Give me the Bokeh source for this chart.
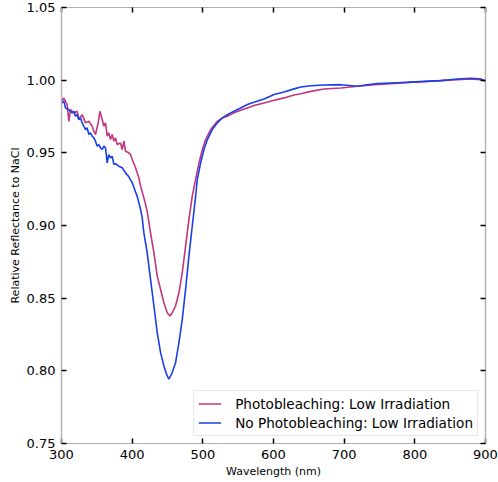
from bokeh.plotting import figure
from bokeh.models import (Range1d, LinearAxis, FixedTicker, NumeralTickFormatter, Legend,
                          LegendItem, CustomLabelingPolicy)
from bokeh.embed import file_html
from bokeh.resources import INLINE

# Photobleaching: Low Irradiation (magenta)
wl_pb = [300.0, 303.3, 308.0, 310.4, 312.7, 317.5, 322.2, 324.5, 329.3, 334.0, 338.7, 343.4,
         345.8, 348.1, 351.9, 354.3, 357.6, 359.9, 362.3, 364.7, 367.0, 369.4, 371.7, 374.1,
         376.5, 378.8, 383.5, 385.9, 388.3, 390.6, 395.3, 397.7, 400.1, 404.8, 407.2, 409.5,
         411.9, 416.6, 421.3, 426.0, 430.8, 435.5, 440.2, 444.9, 449.6, 453.4, 456.7, 461.4,
         466.2, 470.9, 475.6, 480.3, 485.0, 489.8, 494.6, 499.3, 504.0, 511.1, 520.5, 527.6,
         534.7, 544.1, 553.6, 563.0, 572.4, 586.6, 600.8, 614.9, 629.1, 638.6, 652.7, 671.6,
         695.2, 718.8, 742.4, 766.0, 789.6, 813.2, 836.8, 860.4, 879.3, 893.4, 899.1]
rf_pb = [0.9855, 0.9877, 0.9832, 0.9717, 0.9797, 0.9774, 0.9786, 0.9729, 0.9763, 0.9706, 0.9717, 0.9683,
         0.9649, 0.9626, 0.9706, 0.9786, 0.9729, 0.9683, 0.9706, 0.9614, 0.9637, 0.9591, 0.9626, 0.9580,
         0.9603, 0.9557, 0.9568, 0.9522, 0.9580, 0.9511, 0.9500, 0.9488, 0.9454, 0.9397, 0.9362, 0.9328,
         0.9271, 0.9190, 0.9098, 0.8950, 0.8812, 0.8652, 0.8560, 0.8469, 0.8400, 0.8377, 0.8400, 0.8446,
         0.8537, 0.8675, 0.8858, 0.9041, 0.9201, 0.9317, 0.9431, 0.9523, 0.9591, 0.9660, 0.9717, 0.9740,
         0.9752, 0.9775, 0.9793, 0.9809, 0.9825, 0.9843, 0.9862, 0.9878, 0.9898, 0.9907, 0.9923, 0.9939,
         0.9946, 0.9958, 0.9969, 0.9976, 0.9985, 0.9990, 0.9997, 1.0004, 1.0008, 1.0004, 0.9999]

# No Photobleaching: Low Irradiation (blue)
wl_npb = [300.0, 303.3, 305.7, 310.4, 315.1, 317.5, 319.8, 322.2, 324.5, 326.9, 329.3, 331.6,
          334.0, 336.3, 338.7, 341.1, 343.4, 345.8, 348.1, 350.5, 352.9, 355.2, 357.6, 359.9,
          362.3, 364.7, 367.0, 369.4, 371.7, 374.1, 376.5, 381.2, 385.9, 390.6, 395.3, 400.1,
          404.8, 407.1, 409.5, 411.9, 414.2, 416.6, 421.3, 426.0, 430.8, 435.5, 440.2, 444.9,
          448.7, 452.0, 456.7, 461.4, 466.2, 470.9, 475.6, 480.3, 485.0, 489.8, 492.2, 496.9,
          501.6, 506.4, 513.4, 520.5, 527.6, 534.7, 544.1, 553.6, 563.0, 572.4, 586.6, 600.8,
          614.9, 629.1, 638.6, 652.7, 671.6, 695.2, 718.8, 733.0, 747.1, 766.0, 789.6, 813.2,
          836.8, 860.4, 879.3, 893.4, 899.1]
rf_npb = [0.9843, 0.9855, 0.9809, 0.9797, 0.9774, 0.9786, 0.9752, 0.9763, 0.9729, 0.9740, 0.9706, 0.9683,
          0.9660, 0.9672, 0.9626, 0.9637, 0.9614, 0.9603, 0.9580, 0.9546, 0.9557, 0.9534, 0.9523, 0.9546,
          0.9534, 0.9431, 0.9488, 0.9465, 0.9477, 0.9420, 0.9426, 0.9408, 0.9397, 0.9362, 0.9335, 0.9294,
          0.9230, 0.9202, 0.9156, 0.9110, 0.9053, 0.8949, 0.8812, 0.8629, 0.8446, 0.8262, 0.8125, 0.8034,
          0.7976, 0.7942, 0.7988, 0.8056, 0.8194, 0.8354, 0.8560, 0.8789, 0.8995, 0.9201, 0.9317, 0.9431,
          0.9523, 0.9591, 0.9660, 0.9706, 0.9740, 0.9763, 0.9786, 0.9809, 0.9832, 0.9848, 0.9871, 0.9901,
          0.9919, 0.9940, 0.9953, 0.9962, 0.9967, 0.9969, 0.9958, 0.9969, 0.9976, 0.9981, 0.9985, 0.9992,
          0.9997, 1.0008, 1.0013, 1.0008, 0.9992]

x_ticks = [300, 400, 500, 600, 700, 800, 900]
y_ticks = [0.75, 0.80, 0.85, 0.90, 0.95, 1.00, 1.05]
label_pb = "Photobleaching: Low Irradiation"
label_npb = "No Photobleaching: Low Irradiation"

FONT = "DejaVu Sans"
SPINE = "#b0b0b0"

p = figure(width=498, height=480, output_backend="svg", toolbar_location=None,
           x_range=Range1d(300, 900), y_range=Range1d(0.75, 1.05),
           min_border_left=61, min_border_right=13, min_border_top=7, min_border_bottom=30)
p.grid.visible = False
p.outline_line_color = SPINE
p.outline_line_width = 1.2
p.background_fill_color = "white"
p.border_fill_color = "white"

r1 = p.line(wl_pb, rf_pb, line_color="#c2367f", line_width=1.6)
r2 = p.line(wl_npb, rf_npb, line_color="#1a3fe6", line_width=1.6)

hide_labels = CustomLabelingPolicy(code="""
try { for (const i of Array.from(indices)) { indices.unset(i) } } catch (e) {}
return indices
""")

def style(ax, labels=True):
    ax.axis_line_color = SPINE
    ax.axis_line_width = 1.2
    ax.major_tick_in = 5
    ax.major_tick_out = 0
    ax.major_tick_line_color = "black"
    ax.major_tick_line_width = 1.5
    ax.minor_tick_line_color = None
    ax.major_label_text_font = FONT
    ax.major_label_text_color = "black"
    ax.axis_label_text_font = FONT
    ax.axis_label_text_font_style = "normal"
    ax.axis_label_text_color = "black"
    ax.axis_label_text_font_size = "11px"
    if labels:
        ax.major_label_text_font_size = "13px"
        ax.major_label_standoff = 6
    else:
        ax.major_label_text_font_size = "0px"
        ax.major_label_standoff = 0
        ax.major_label_policy = hide_labels

xa = p.xaxis[0]
xa.ticker = FixedTicker(ticks=x_ticks)
xa.axis_label = "Wavelength (nm)"
xa.axis_label_standoff = 3
style(xa)

ya = p.yaxis[0]
ya.ticker = FixedTicker(ticks=y_ticks)
ya.formatter = NumeralTickFormatter(format="0.00")
ya.axis_label = "Relative Reflectance to NaCl"
ya.axis_label_standoff = 2
style(ya)

top = LinearAxis(ticker=FixedTicker(ticks=x_ticks))
style(top, labels=False)
p.add_layout(top, "above")
right = LinearAxis(ticker=FixedTicker(ticks=y_ticks))
style(right, labels=False)
p.add_layout(right, "right")

legend = Legend(items=[LegendItem(label=label_pb, renderers=[r1]),
                       LegendItem(label=label_npb, renderers=[r2])],
                location="bottom_right")
legend.margin = 7
legend.padding = 4
legend.spacing = 2
legend.label_height = 17
legend.glyph_height = 17
legend.glyph_width = 23
legend.label_standoff = 14
legend.label_text_font = FONT
legend.label_text_font_size = "13.6px"
legend.label_text_color = "black"
legend.border_line_color = "#cccccc"
legend.border_line_width = 1
legend.background_fill_alpha = 1.0
p.add_layout(legend, "center")

open("out.html", "w").write(file_html(p, INLINE))
